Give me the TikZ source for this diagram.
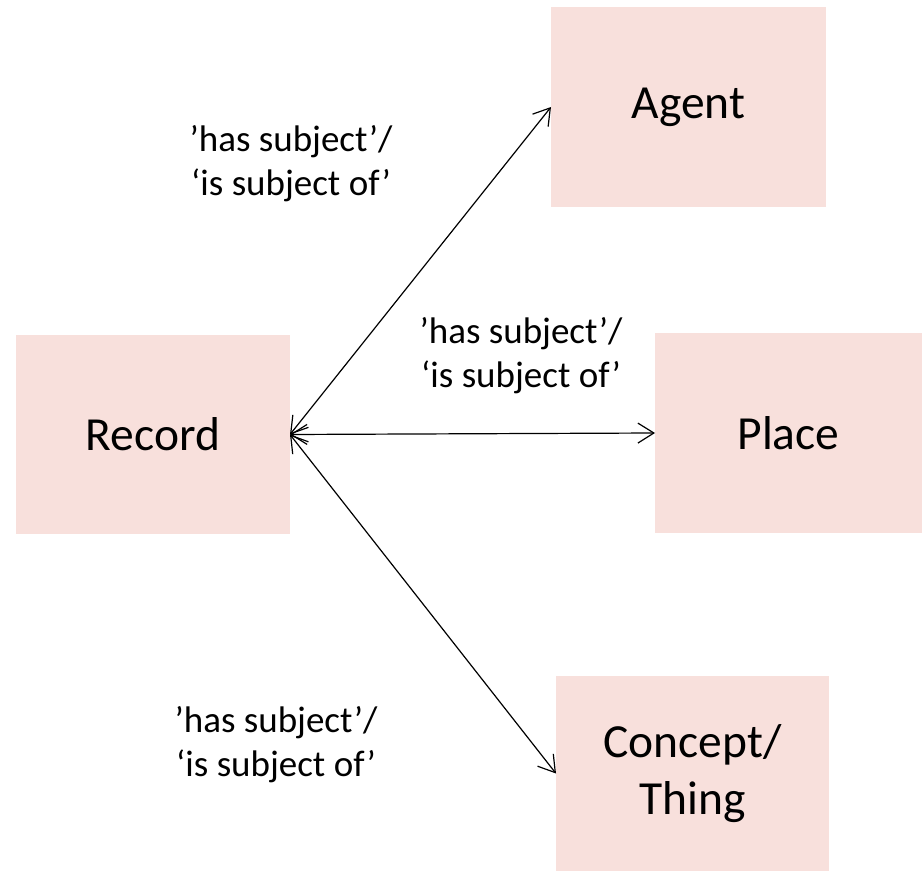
\documentclass[tikz,border=0pt]{standalone}
\usepackage{fontspec}
\setmainfont{Carlito}
\usetikzlibrary{arrows.meta}
\definecolor{boxpink}{RGB}{248,224,220}
\tikzset{
  entity/.style={fill=boxpink, draw=none, inner sep=0pt, outer sep=0pt,
    align=center, font=\fontsize{47.5}{57}\selectfont},
  rel/.style={draw=black, line width=1.2pt,
    {Straight Barb[length=16pt,width=20pt,line width=1.2pt]}-{Straight Barb[length=16pt,width=20pt,line width=1.2pt]}},
  lbl/.style={align=center, inner sep=0pt, font=\fontsize{37}{44}\selectfont}
}
\begin{document}
\begin{tikzpicture}[x=1pt,y=-1pt]
  \useasboundingbox (0,0) rectangle (922,872);
  % entity boxes
  \node[entity, minimum width=274pt, minimum height=199pt] (rec) at (153,434.5) {Record};
  \node[entity, minimum width=275pt, minimum height=200pt] (agent) at (688.5,107) {Agent};
  \node[entity, minimum width=267pt, minimum height=200pt] (place) at (788.5,433) {Place};
  \node[entity, minimum width=273pt, minimum height=195pt] (thing) at (692.5,773.5) {Concept/\\Thing};
  % relationships
  \draw[rel] (rec.east) -- (agent.west);
  \draw[rel] (rec.east) -- (place.west);
  \draw[rel] (rec.east) -- (thing.west);
  % relationship labels
  \node[lbl] (l1) at (291,164) {’has subject’/\\‘is subject of’};
  \node[lbl] (l2) at (521,356) {’has subject’/\\‘is subject of’};
  \node[lbl] (l3) at (276,745) {’has subject’/\\‘is subject of’};
\end{tikzpicture}
\end{document}
